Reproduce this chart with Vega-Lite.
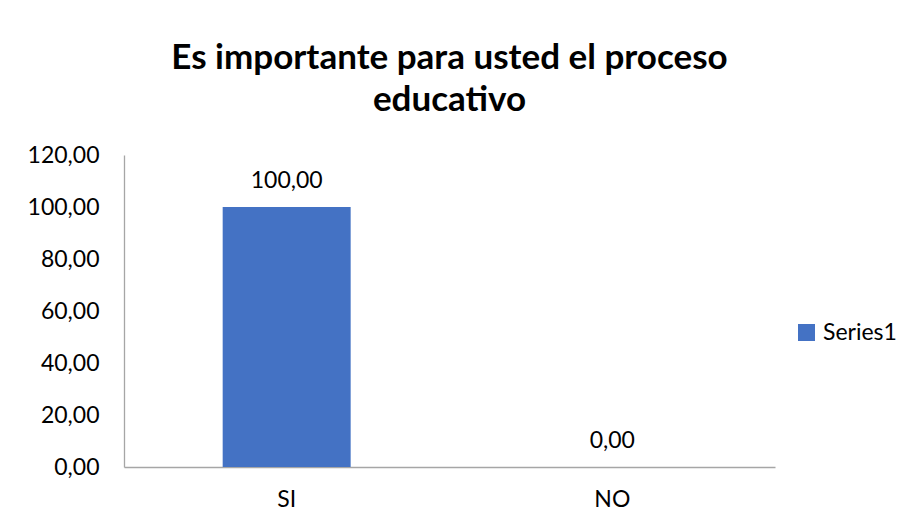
{
  "$schema": "https://vega.github.io/schema/vega-lite/v6.json",
  "width": 651,
  "height": 312,
  "autosize": {"type": "none"},
  "padding": {"left": 124, "top": 155, "right": 133, "bottom": 60},
  "background": "white",
  "title": {
    "text": ["Es importante para usted el proceso", "educativo"],
    "font": "Lato",
    "fontSize": 35,
    "fontWeight": "bold",
    "color": "#000000",
    "anchor": "middle",
    "lineHeight": 42,
    "offset": 26
  },
  "data": {
    "values": [
      {"categoria": "SI", "valor": 100, "serie": "Series1"},
      {"categoria": "NO", "valor": 0, "serie": "Series1"}
    ]
  },
  "encoding": {
    "x": {
      "field": "categoria",
      "type": "nominal",
      "sort": ["SI", "NO"],
      "scale": {"paddingInner": 0.607, "paddingOuter": 0.303},
      "axis": {
        "title": null,
        "labelAngle": 0,
        "labelFont": "Lato",
        "labelFontSize": 23,
        "labelColor": "#000000",
        "labelPadding": 21,
        "ticks": false,
        "domainColor": "#a6a6a6",
        "domainWidth": 1.3,
        "grid": false
      }
    },
    "y": {
      "field": "valor",
      "type": "quantitative",
      "scale": {"domain": [0, 120]},
      "axis": {
        "title": null,
        "values": [0, 20, 40, 60, 80, 100, 120],
        "format": ".2f",
        "labelFont": "Lato",
        "labelFontSize": 23,
        "labelColor": "#000000",
        "labelPadding": 25,
        "ticks": false,
        "domainColor": "#a6a6a6",
        "domainWidth": 1.3,
        "grid": false
      }
    }
  },
  "layer": [
    {
      "mark": {"type": "bar", "color": "#4472C4"},
      "encoding": {
        "color": {
          "field": "serie",
          "type": "nominal",
          "scale": {"range": ["#4472C4"]},
          "legend": {
            "title": null,
            "orient": "none",
            "legendX": 671,
            "legendY": 166,
            "symbolType": "square",
            "symbolSize": 289,
            "symbolOpacity": 1,
            "labelFont": "Lato",
            "labelFontSize": 23,
            "labelColor": "#000000",
            "labelOffset": 5
          }
        }
      }
    },
    {
      "mark": {"type": "text", "baseline": "alphabetic", "dy": -19, "font": "Lato", "fontSize": 23, "color": "#000000"},
      "encoding": {
        "text": {"field": "valor", "type": "quantitative", "format": ".2f"}
      }
    }
  ],
  "config": {
    "view": {"stroke": null},
    "locale": {
      "number": {"decimal": ",", "thousands": ".", "grouping": [3], "currency": ["", " €"]}
    }
  }
}
